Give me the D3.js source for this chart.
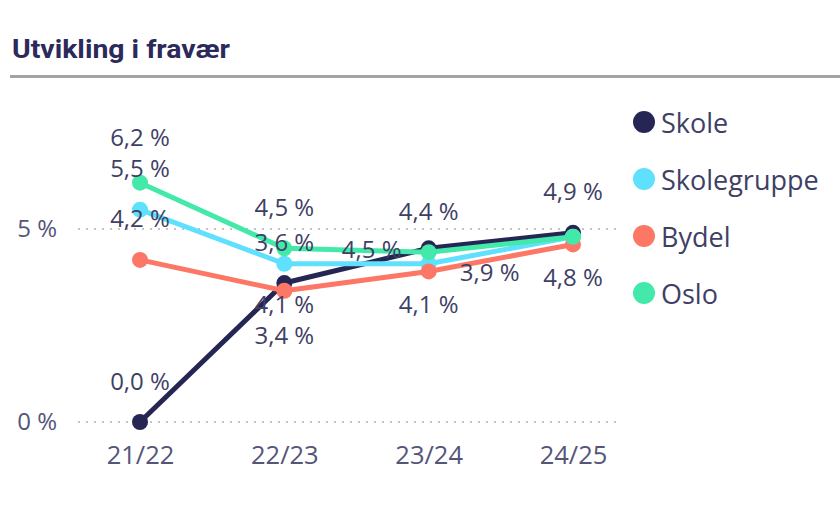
<!DOCTYPE html>
<html>
<head>
<meta charset="utf-8">
<script src="https://cdn.jsdelivr.net/npm/d3@7"></script>
<style>
  html, body { margin: 0; padding: 0; background: #ffffff; }
  svg { display: block; }
</style>
</head>
<body>
<svg id="chart" width="840" height="514"></svg>
<script>
// ---- Data ----
const categories = ["21/22", "22/23", "23/24", "24/25"];
const seriesNames = ["Skole", "Skolegruppe", "Bydel", "Oslo"];
const skole       = [0.0, 3.6, 4.5, 4.9];
const skolegruppe = [5.5, 4.1, 4.1, 4.8];
const bydel       = [4.2, 3.4, 3.9, 4.6];
const oslo        = [6.2, 4.5, 4.4, 4.8];
const yTicks = [0, 5];
const yTickLabels = ["0 %", "5 %"];
// label placement per series per category (which side of the point the value label sits)
const skoleLabelSide       = ["above", "above", "left", "above"];
const skolegruppeLabelSide = ["above", "below", "below", "below"];
const bydelLabelSide       = ["above", "farbelow", "right", "none"];
const osloLabelSide        = ["farabove", "above", "above", "none"];

const colors = ["#262654", "#5fe0fd", "#fc7766", "#42e9a8"];

const series = [
  { name: seriesNames[0], values: skole, side: skoleLabelSide, color: colors[0] },
  { name: seriesNames[1], values: skolegruppe, side: skolegruppeLabelSide, color: colors[1] },
  { name: seriesNames[2], values: bydel, side: bydelLabelSide, color: colors[2] },
  { name: seriesNames[3], values: oslo, side: osloLabelSide, color: colors[3] }
];

const svg = d3.select("#chart");
const fontNum = "'Open Sans', 'Noto Sans', sans-serif";
const textColor = "#3f3f66";

// Title
svg.append("text")
  .attr("x", 12).attr("y", 58)
  .attr("font-family", "Roboto, 'DejaVu Sans', sans-serif")
  .attr("font-weight", 700)
  .attr("font-size", 25)
  .attr("fill", "#2b2a5a")
  .attr("textLength", 218)
  .attr("lengthAdjust", "spacingAndGlyphs")
  .text("Utvikling i fravær");

svg.append("line")
  .attr("x1", 10).attr("x2", 840).attr("y1", 76.5).attr("y2", 76.5)
  .attr("stroke", "#a3a3a3").attr("stroke-width", 3);

// Scales
const x = d3.scalePoint().domain(categories).range([140, 573]);
const y = d3.scaleLinear().domain([0, 5]).range([422, 229]);

// Gridlines
svg.append("g").selectAll("line").data(yTicks).join("line")
  .attr("x1", 78).attr("x2", 622)
  .attr("y1", d => y(d)).attr("y2", d => y(d))
  .attr("stroke", "#c4c4c4").attr("stroke-width", 2)
  .attr("stroke-dasharray", "2,6");

// Y axis labels
const yAxis = d3.axisLeft(y).tickValues(yTicks).tickFormat((d, i) => yTickLabels[i]).tickSize(0).tickPadding(0);
const yg = svg.append("g").attr("transform", "translate(57,0)").call(yAxis);
yg.select(".domain").remove();
yg.selectAll("text")
  .attr("font-family", fontNum).attr("font-size", 24).attr("fill", "#55557a");

// X axis labels
const xAxis = d3.axisBottom(x).tickSize(0).tickPadding(0);
const xg = svg.append("g").attr("transform", "translate(0,446)").call(xAxis);
xg.select(".domain").remove();
xg.selectAll("text")
  .attr("font-family", fontNum).attr("font-size", 25.5).attr("fill", "#55557a")
  .attr("dy", "0.71em");

// Lines
const line = d3.line().x((d, i) => x(categories[i])).y(d => y(d));
const lg = svg.append("g");
series.forEach(s => {
  lg.append("path")
    .attr("d", line(s.values))
    .attr("fill", "none")
    .attr("stroke", s.color)
    .attr("stroke-width", 5)
    .attr("stroke-linejoin", "round")
    .attr("stroke-linecap", "round");
  lg.selectAll(null).data(s.values).join("circle")
    .attr("cx", (d, i) => x(categories[i]))
    .attr("cy", d => y(d))
    .attr("r", 8)
    .attr("fill", s.color);
});

// Value labels
const fmt = v => v.toFixed(1).replace(".", ",") + " %";
const offsets = {
  above: [0, -42], farabove: [0, -46], below: [0, 40], farbelow: [0, 44],
  left: [-57, 0], right: [61, 0]
};
const labG = svg.append("g");
series.forEach(s => {
  s.values.forEach((v, i) => {
    const side = s.side[i];
    if (side === "none") return;
    const [dx, dy] = offsets[side];
    labG.append("text")
      .attr("x", x(categories[i]) + dx)
      .attr("y", y(v) + dy)
      .attr("text-anchor", "middle")
      .attr("dominant-baseline", "central")
      .attr("font-family", fontNum)
      .attr("font-size", 24)
      .attr("fill", textColor)
      .text(fmt(v));
  });
});

// Legend
const leg = svg.append("g");
series.forEach((s, i) => {
  const cy = 122 + i * 57;
  leg.append("circle").attr("cx", 644).attr("cy", cy).attr("r", 11).attr("fill", s.color);
  leg.append("text")
    .attr("x", 661).attr("y", cy)
    .attr("dominant-baseline", "central")
    .attr("font-family", fontNum)
    .attr("font-size", 27)
    .attr("fill", textColor)
    .text(s.name);
});
</script>
</body>
</html>
